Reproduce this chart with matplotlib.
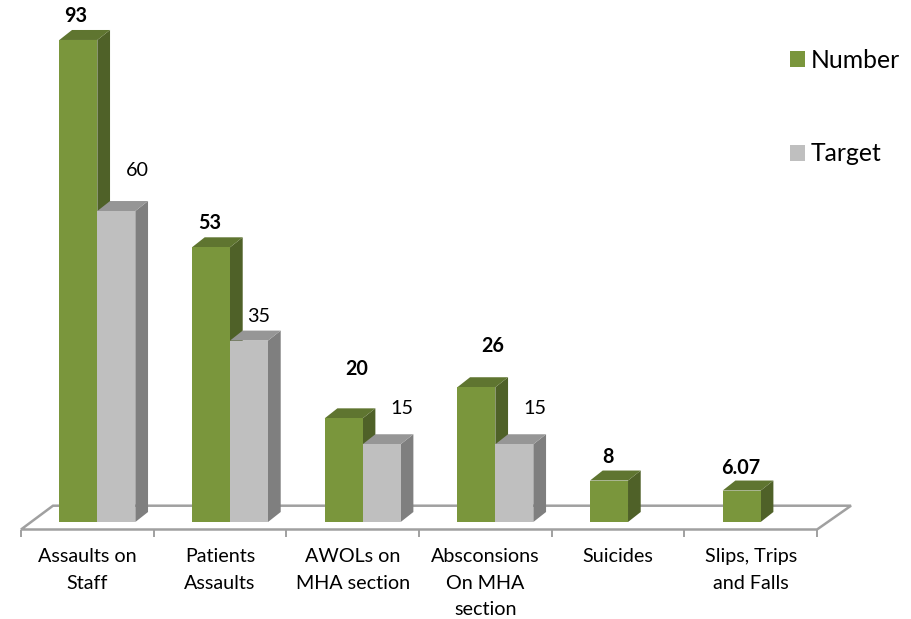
import matplotlib
matplotlib.use('Agg')
import matplotlib.pyplot as plt
import numpy as np
from matplotlib.patches import Patch, Polygon

plt.rcParams['font.family'] = ['Lato', 'DejaVu Sans']

categories = ['Assaults on\nStaff', 'Patients\nAssaults', 'AWOLs on\nMHA section',
              'Absconsions\nOn MHA\nsection', 'Suicides', 'Slips, Trips\nand Falls']
number = [93, 53, 20, 26, 8, 6.07]
number_labels = ['93', '53', '20', '26', '8', '6.07']
target = [60, 35, 15, 15, None, None]
target_labels = ['60', '35', '15', '15', None, None]

# nudges for the value labels, in pixels (x, y above bar top)
number_nudge = [(-3, 24), (-1, 24), (13, 49), (16, 41), (-1, 24), (-1, 23)]
target_nudge = [(21, 41), (10, 24), (20, 36), (20, 36), None, None]

W, H = 912, 619
PX_X = 132.67   # pixels per category
PX_Y = 5.183    # pixels per unit
X0 = 21         # left end of the category axis
Y0 = 522        # pixel row of the zero level

bar_w = 38 / PX_X
shift = 10 / PX_X
dx = 12.7 / PX_X
dy = 10 / PX_Y

GREEN = ('#7A963C', '#5F7530', '#4F6128')
GREY = ('#BFBFBF', '#969696', '#7F7F7F')
FLOOR = '#A0A0A0'

fig = plt.figure(figsize=(W / 100, H / 100), dpi=100)
ax = fig.add_axes([0, 0, 1, 1])
ax.set_xlim(-X0 / PX_X, (W - X0) / PX_X)
ax.set_ylim((Y0 - H) / PX_Y, Y0 / PX_Y)
ax.axis('off')


def draw_bars(xs, vals, colors, z):
    front, top, side = colors
    for x, v in zip(xs, vals):
        if v is None:
            continue
        ax.add_patch(Polygon([(x + bar_w, 0), (x + bar_w + dx, dy), (x + bar_w + dx, v + dy), (x + bar_w, v)],
                             fc=side, ec='none', zorder=z))
        ax.add_patch(Polygon([(x, v), (x + dx, v + dy), (x + bar_w + dx, v + dy), (x + bar_w, v)],
                             fc=top, ec='none', zorder=z))
        ax.bar(x, v, width=bar_w, align='edge', color=front, zorder=z + 0.5)


# floor of the chart
front_y = -7.5 / PX_Y
back_y = 16.3 / PX_Y
n = len(categories)
floor_pts = [(0, front_y), (n, front_y), (n + 34 / PX_X, back_y), (32 / PX_X, back_y)]
ax.add_patch(Polygon(floor_pts, closed=True, fc='white', ec=FLOOR, lw=1.8, zorder=1))
for i in range(n + 1):
    ax.plot([i, i], [front_y, front_y - 7 / PX_Y], color=FLOOR, lw=1.4, zorder=1, solid_capstyle='butt')

centers = np.arange(n) + 0.5 + shift
draw_bars(centers - bar_w, number, GREEN, 3)
draw_bars(centers, target, GREY, 5)

# value labels
for i in range(n):
    xc = centers[i] - bar_w / 2
    nx, ny = number_nudge[i]
    ax.annotate(number_labels[i], (xc, number[i]), xytext=(nx, ny), textcoords='offset pixels',
                ha='center', va='center', fontsize=14.2, fontweight='bold', color='black', zorder=8)
    if target[i] is not None:
        xc = centers[i] + bar_w / 2
        nx, ny = target_nudge[i]
        ax.annotate(target_labels[i], (xc, target[i]), xytext=(nx, ny), textcoords='offset pixels',
                    ha='center', va='center', fontsize=14.2, color='black', zorder=8)

# category labels
for i, lab in enumerate(categories):
    ax.text(i + 0.5, (Y0 - 548) / PX_Y, lab, ha='center', va='top', fontsize=14.2,
            linespacing=1.68, color='black')

handles = [Patch(fc=GREEN[0], label='Number'), Patch(fc=GREY[0], label='Target')]
ax.legend(handles=handles, loc='upper left', bbox_to_anchor=(790 / W, 1 - 49 / H), frameon=False,
          fontsize=17.8, handlelength=0.6, handleheight=0.6, handletextpad=0.24,
          labelspacing=2.85, borderpad=0, borderaxespad=0, labelcolor='black')

fig.savefig('out.png', dpi=100)
